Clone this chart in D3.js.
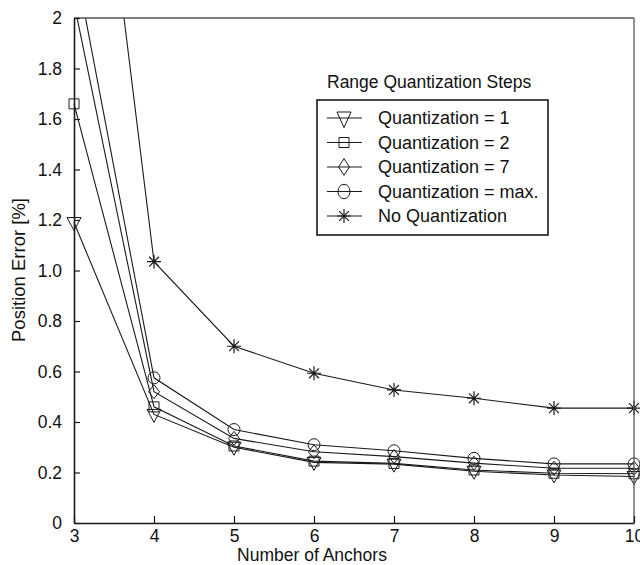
<!DOCTYPE html>
<html>
<head>
<meta charset="utf-8">
<script src="https://cdn.jsdelivr.net/npm/d3@7"></script>
<style>
  html, body { margin: 0; padding: 0; background: #fff; }
  svg { display: block; }
  text { font-family: "Liberation Sans", Arial, Helvetica, sans-serif; fill: #111; }
</style>
</head>
<body>
<svg id="chart" width="640" height="565"></svg>
<script>
// Number of anchors on the x axis
const anchors = [3, 4, 5, 6, 7, 8, 9, 10];

// Position error [%] for each quantization setting
const quant1   = [1.19, 0.43, 0.30, 0.24, 0.233, 0.205, 0.19, 0.184];
const quant2   = [1.66, 0.46, 0.305, 0.245, 0.236, 0.21, 0.197, 0.195];
const quant7   = [2.06, 0.52, 0.335, 0.282, 0.263, 0.237, 0.217, 0.217];
const quantMax = [2.24, 0.575, 0.37, 0.31, 0.286, 0.256, 0.234, 0.234];
const noQuant  = [3.61, 1.035, 0.70, 0.593, 0.527, 0.494, 0.455, 0.455];

const seriesNames = ["Quantization = 1", "Quantization = 2", "Quantization = 7",
                     "Quantization = max.", "No Quantization"];
const seriesValues = [quant1, quant2, quant7, quantMax, noQuant];
const seriesMarkers = ["triangle", "square", "diamond", "circle", "star"];

const yTicks = [0, 0.2, 0.4, 0.6, 0.8, 1.0, 1.2, 1.4, 1.6, 1.8, 2];
const yTickLabels = ["0", "0.2", "0.4", "0.6", "0.8", "1.0", "1.2", "1.4", "1.6", "1.8", "2"];
const xTicks = [3, 4, 5, 6, 7, 8, 9, 10];
const xTickLabels = ["3", "4", "5", "6", "7", "8", "9", "10"];

const svg = d3.select("#chart");
const ink = "#1a1a1a";

const x = d3.scaleLinear().domain([3, 10]).range([74, 634]);
const y = d3.scaleLinear().domain([0, 2]).range([523, 18]);

// Clip lines and markers to the plotting frame
svg.append("defs").append("clipPath").attr("id", "plotClip")
  .append("rect")
  .attr("x", x(3) - 8).attr("y", y(2))
  .attr("width", x(10) - x(3) + 16).attr("height", y(0) - y(2));

// Marker path generators centred at 0,0
function markerPath(kind, scaleY) {
  const sy = scaleY || 1;
  const p = d3.path();
  if (kind === "triangle") {
    p.moveTo(-7, -5 * sy); p.lineTo(7, -5 * sy); p.lineTo(0, 8 * sy); p.closePath();
  } else if (kind === "square") {
    p.rect(-5, -5, 10, 10);
  } else if (kind === "diamond") {
    p.moveTo(0, -7 * sy); p.lineTo(5.5, 0); p.lineTo(0, 7 * sy); p.lineTo(-5.5, 0); p.closePath();
  } else if (kind === "star") {
    const r = 7;
    for (let i = 0; i < 4; i++) {
      const a = i * Math.PI / 4;
      p.moveTo(-r * Math.cos(a), -r * Math.sin(a));
      p.lineTo(r * Math.cos(a), r * Math.sin(a));
    }
  }
  return p.toString();
}

function drawMarker(g, kind, cx, cy, scaleY) {
  const sy = scaleY || 1;
  if (kind === "circle") {
    g.append("ellipse").attr("cx", cx).attr("cy", cy)
      .attr("rx", 6).attr("ry", 6 * sy)
      .attr("fill", "none").attr("stroke", ink).attr("stroke-width", 1);
  } else {
    g.append("path").attr("d", markerPath(kind, sy))
      .attr("transform", `translate(${cx},${cy})`)
      .attr("fill", "none").attr("stroke", ink)
      .attr("stroke-width", kind === "star" ? 1.2 : 1);
  }
}

// Series lines and markers
const plot = svg.append("g").attr("clip-path", "url(#plotClip)");
const line = d3.line().x((d, i) => x(anchors[i])).y(d => y(d));

seriesValues.forEach(vals => {
  plot.append("path")
    .attr("d", line(vals))
    .attr("fill", "none").attr("stroke", ink).attr("stroke-width", 1.1);
});
seriesValues.forEach((vals, s) => {
  vals.forEach((v, i) => {
    if (v <= 2) drawMarker(plot, seriesMarkers[s], x(anchors[i]), y(v));
  });
});

// Frame (top and right edges)
const frame = svg.append("g").attr("stroke-width", 1.3).attr("fill", "none");
frame.append("line").attr("x1", x(3)).attr("x2", x(10)).attr("y1", y(2)).attr("y2", y(2)).attr("stroke", "#555");
frame.append("line").attr("x1", x(10)).attr("x2", x(10)).attr("y1", y(2)).attr("y2", y(0)).attr("stroke", "#555");

// Axes with inward ticks
const tickFont = 17.5;
const yAxis = d3.axisLeft(y).tickValues(yTicks)
  .tickFormat((d, i) => yTickLabels[i]).tickSizeInner(-6).tickSizeOuter(0).tickPadding(12);
const gy = svg.append("g").attr("transform", `translate(${x(3)},0)`).call(yAxis);
gy.select(".domain").attr("stroke", ink).attr("stroke-width", 1.6);
gy.selectAll(".tick line").attr("stroke", ink).attr("stroke-width", 1.2);
gy.selectAll(".tick text").attr("font-size", tickFont).attr("fill", "#111")
  .attr("font-family", "'Liberation Sans', Arial, sans-serif");

const xAxis = d3.axisBottom(x).tickValues(xTicks)
  .tickFormat((d, i) => xTickLabels[i]).tickSizeInner(-7).tickSizeOuter(0).tickPadding(7);
const gx = svg.append("g").attr("transform", `translate(0,${y(0)})`).call(xAxis);
gx.select(".domain").attr("stroke", ink).attr("stroke-width", 1.6);
gx.selectAll(".tick line").attr("stroke", ink).attr("stroke-width", 1.2);
gx.selectAll(".tick text").attr("font-size", tickFont).attr("fill", "#111")
  .attr("font-family", "'Liberation Sans', Arial, sans-serif");

// Axis titles
svg.append("text")
  .attr("x", 312).attr("y", 561)
  .attr("text-anchor", "middle").attr("font-size", 17.5)
  .text("Number of Anchors");
svg.append("text")
  .attr("transform", "translate(25,270) rotate(-90)")
  .attr("text-anchor", "middle").attr("font-size", 18.5)
  .text("Position Error [%]");

// Legend
const legend = svg.append("g");
legend.append("text")
  .attr("x", 327).attr("y", 88).attr("font-size", 17.5)
  .text("Range Quantization Steps");
legend.append("rect")
  .attr("x", 317).attr("y", 100).attr("width", 231).attr("height", 135)
  .attr("fill", "#fff").attr("stroke", ink).attr("stroke-width", 1.6);

seriesNames.forEach((name, i) => {
  const by = 124 + i * 24.5;
  const cy = by - 6;
  legend.append("line")
    .attr("x1", 327).attr("x2", 362).attr("y1", cy).attr("y2", cy)
    .attr("stroke", ink).attr("stroke-width", 1.1);
  drawMarker(legend, seriesMarkers[i], 344, cy,
    seriesMarkers[i] === "square" || seriesMarkers[i] === "star" ? 1 : 1.2);
  legend.append("text")
    .attr("x", 378).attr("y", by).attr("font-size", 18)
    .text(name);
});
</script>
</body>
</html>
